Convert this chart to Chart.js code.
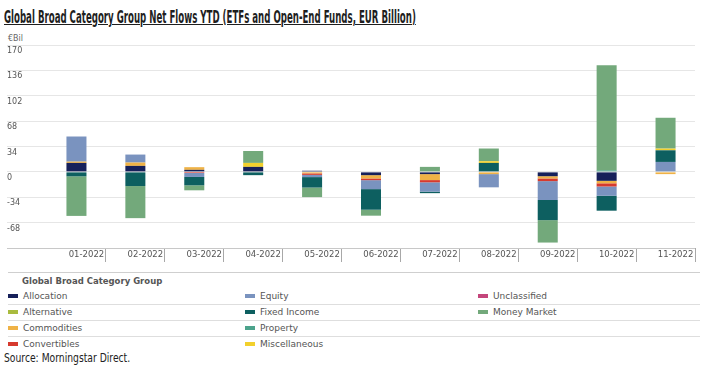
<!DOCTYPE html>
<html>
<head>
<meta charset="utf-8">
<script src="https://cdn.jsdelivr.net/npm/chart.js@4.4.1/dist/chart.umd.min.js"></script>
<style>
  html, body { margin: 0; padding: 0; background: #fff; }
  body { width: 708px; height: 368px; position: relative; overflow: hidden; font-family: "DejaVu Sans", sans-serif; }
  #title { position: absolute; left: 4px; top: 6px; font-family: "Liberation Sans Narrow", "DejaVu Sans Condensed", sans-serif; font-weight: bold; font-size: 18px; color: #1e1e1e; text-decoration: underline; white-space: nowrap; transform-origin: 0 0; }
  #unit { position: absolute; left: 8px; top: 34px; font-size: 8px; color: #666; }
  #wrap { position: absolute; left: 0; top: 30px; width: 708px; height: 240px; }
  #legend { position: absolute; left: 8px; top: 272px; width: 692px; border-top: 1px solid #cfcfcf; }
  #legend .head { height: 16px; line-height: 17px; padding-left: 14px; font-size: 8.5px; font-weight: bold; color: #555; }
  #legend .row { position: relative; height: 15px; border-bottom: 1px solid #dedede; }
  #legend .row:last-child { border-bottom: none; }
  #legend .item { position: absolute; top: 0; height: 15px; line-height: 15px; font-size: 9px; color: #555; white-space: nowrap; }
  #legend .mark { display: inline-block; width: 10px; height: 4px; margin-right: 5px; vertical-align: middle; position: relative; top: -1px; }
  #source { position: absolute; left: 4px; top: 350px; font-family: "Liberation Sans Narrow", "DejaVu Sans Condensed", sans-serif; font-size: 13px; color: #222; white-space: nowrap; transform-origin: 0 0; }
</style>
</head>
<body>
<div id="title">Global Broad Category Group Net Flows YTD (ETFs and Open-End Funds, EUR Billion)</div>
<div id="unit">€Bil</div>
<div id="wrap"><canvas id="chart" width="708" height="240"></canvas></div>
<div id="legend"></div>
<div id="source">Source: Morningstar Direct.</div>
<script>
// categories
const months = ["01-2022", "02-2022", "03-2022", "04-2022", "05-2022", "06-2022",
  "07-2022", "08-2022", "09-2022", "10-2022", "11-2022"];

// net flows per group, EUR billion
const allocation    = [12, 8, 2.7, 6.7, 1.5, -4.4, -3, 0, -5.8, -12, 0];
const alternative   = [0, 0, 0, 0, 0, 0, 0, 0, 0, 0, 0];
const commodities   = [1.7, 4.5, 3.6, 0, -2, -4.4, -8, -3, -3, -3.3, -3];
const convertibles  = [0, 0, -1.5, 0, -2, -2.3, -3, 0, -3.6, -4.3, 0];
const equity        = [33.7, 10.7, -5.3, 0, -3, -12, -12.5, -17.7, -25.3, -12.4, 13.3];
const fixedIncome   = [-6, -19, -11.2, -4.4, -14, -27.6, -2, 12, -27, -20, 15.6];
const property      = [0, 0, 0, 0, 0, 0, 0, 0, 0, 2, 0];
const miscellaneous = [0, 0, 0, 5.3, 0, 0, 0, 2.3, 0, 0, 2.3];
const unclassified  = [0, 0, 0, 0, 0, 0, 0, 0, 0, 0, 0];
const moneyMarket   = [-53, -43, -6.7, 16, -12.8, -8, 6.7, 17, -30, 141, 41.3];

const seriesNames = ["Allocation", "Alternative", "Commodities", "Convertibles", "Equity",
  "Fixed Income", "Property", "Miscellaneous", "Unclassified", "Money Market"];
const seriesValues = [allocation, alternative, commodities, convertibles, equity,
  fixedIncome, property, miscellaneous, unclassified, moneyMarket];
const seriesColors = ["#16205a", "#a9bb3e", "#efb246", "#d63a2e", "#7a93bf",
  "#0d5f60", "#4ca38c", "#f2d02c", "#c4467b", "#73a97b"];

// y axis ticks
const yTickValues = [-102, -68, -34, 0, 34, 68, 102, 136, 170];

const datasets = seriesNames.map((name, i) => ({
  label: name,
  data: seriesValues[i],
  backgroundColor: seriesColors[i],
  borderWidth: 0,
  categoryPercentage: 0.34,
  barPercentage: 1
}));

new Chart(document.getElementById("chart"), {
  type: "bar",
  data: { labels: months, datasets: datasets },
  options: {
    responsive: false,
    animation: false,
    devicePixelRatio: 1,
    layout: { padding: { left: 7, right: 13, top: 15, bottom: 0 } },
    plugins: { legend: { display: false }, tooltip: { enabled: false } },
    scales: {
      x: {
        stacked: true,
        offset: true,
        afterFit: s => { s.height = 22; },
        border: { display: false },
        grid: {
          offset: true,
          drawOnChartArea: false,
          drawTicks: true,
          tickLength: 14,
          color: ctx => ctx.index === 0 ? "rgba(0,0,0,0)" : "#a8a8a8"
        },
        ticks: {
          padding: -12,
          labelOffset: 10,
          autoSkip: false,
          maxRotation: 0,
          color: "#555",
          font: { family: "DejaVu Sans", size: 8.5 }
        }
      },
      y: {
        stacked: true,
        min: -102,
        max: 170,
        afterBuildTicks: s => { s.ticks = yTickValues.map(v => ({ value: v })); },
        afterFit: s => { s.width = 40; },
        border: { display: false },
        grid: {
          tickLength: 40,
          color: ctx => ctx.tick && ctx.tick.value === -102 ? "#c8c8c8" : "#e6e6e6"
        },
        ticks: {
          crossAlign: "far",
          padding: 0,
          labelOffset: 6,
          color: "#555",
          font: { family: "DejaVu Sans", size: 8 },
          callback: v => v === -102 ? "" : v
        }
      }
    }
  }
});

// legend, 4 rows filled column by column
const legend = document.getElementById("legend");
const head = document.createElement("div");
head.className = "head";
head.textContent = "Global Broad Category Group";
legend.appendChild(head);
const colX = [0, 237, 470];
for (let r = 0; r < 4; r++) {
  const row = document.createElement("div");
  row.className = "row";
  for (let c = 0; c < 3; c++) {
    const i = c * 4 + r;
    if (i >= seriesNames.length) continue;
    const item = document.createElement("div");
    item.className = "item";
    item.style.left = colX[c] + "px";
    item.innerHTML = '<span class="mark" style="background:' + seriesColors[i] + '"></span>' + seriesNames[i];
    row.appendChild(item);
  }
  legend.appendChild(row);
}

// squeeze condensed text to the reference width
const title = document.getElementById("title");
title.style.transform = "scaleX(" + (412 / title.offsetWidth) + ")";
const source = document.getElementById("source");
source.style.transform = "scaleX(" + (126 / source.offsetWidth) + ")";
</script>
</body>
</html>
